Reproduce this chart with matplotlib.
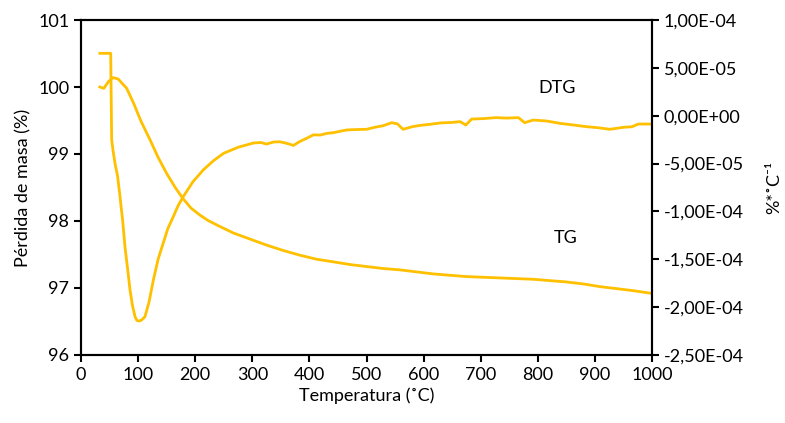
import matplotlib
matplotlib.use("Agg")
import matplotlib.pyplot as plt
from matplotlib.ticker import FuncFormatter, MultipleLocator

plt.rcParams['font.family'] = ['Lato', 'DejaVu Sans']

# TG curve (left axis, %)
tg_x = [33, 40, 48, 56, 65, 80, 92, 105, 121, 135, 150, 165, 179, 193, 208, 222, 238,
        267, 296, 325, 354, 383, 412, 442, 471, 500, 530, 559, 588, 617, 646, 675,
        705, 734, 763, 792, 821, 850, 880, 909, 938, 967, 999]
tg_y = [100.00, 99.98, 100.08, 100.14, 100.12, 99.98, 99.76, 99.49, 99.21, 98.95, 98.71,
        98.50, 98.33, 98.19, 98.09, 98.01, 97.94,
        97.82, 97.73, 97.64, 97.56, 97.49, 97.43, 97.39, 97.35, 97.32, 97.29, 97.27, 97.24,
        97.21, 97.19, 97.17, 97.16, 97.15, 97.14, 97.13, 97.11, 97.09, 97.06, 97.02,
        96.99, 96.96, 96.92]

# DTG curve (right axis, %*C-1)
dtg_x = [33, 40, 47, 52, 53.7, 56, 59.5, 64, 68.3, 73, 77, 82, 85.8, 90, 94.6, 98, 102,
         106, 112, 119, 126.6, 135, 144, 152, 161.6, 170, 179, 196, 214, 232, 249.6, 275,
         302, 315, 325, 337, 348, 358, 366, 372, 383, 395, 407, 419, 430, 442, 465, 480,
         500, 515, 529, 544, 554, 564, 580, 595, 611, 630, 650, 664, 674, 684, 705, 727,
         745, 766, 777, 792, 815, 839, 860, 886, 905, 926, 940, 950, 965, 976, 999]
dtg_y = [6.52, 6.52, 6.52, 6.52, -2.54, -3.6, -4.97, -6.3, -8.46, -11.0, -13.7, -16.2,
         -18.2, -19.8, -21.0, -21.4, -21.45, -21.35, -21.0, -19.5, -17.2, -15.0, -13.3,
         -11.8, -10.55, -9.4, -8.46, -6.9, -5.67, -4.7, -3.93, -3.3,
         -2.85, -2.8, -2.96, -2.75, -2.72, -2.85, -2.99, -3.1, -2.7, -2.36, -2.0, -2.02,
         -1.85, -1.77, -1.49, -1.45, -1.42, -1.2, -1.05, -0.73, -0.85, -1.42, -1.15,
         -1.0, -0.9, -0.75, -0.7, -0.62, -0.97, -0.35, -0.3, -0.2, -0.25, -0.2, -0.73,
         -0.45, -0.55, -0.8, -0.95, -1.15, -1.25, -1.42, -1.3, -1.21, -1.15, -0.87, -0.87]
dtg_y = [v * 1e-5 for v in dtg_y]

color = '#FFC000'
fs = 13

fig = plt.figure(figsize=(7.85, 4.23), dpi=100)
ax = fig.add_axes([0.1032, 0.1608, 0.7274, 0.7919])
ax2 = ax.twinx()

ax.plot(tg_x, tg_y, color=color, lw=2.0, solid_joinstyle='round')
ax2.plot(dtg_x, dtg_y, color=color, lw=2.0, solid_joinstyle='round')

ax.set_xlim(0, 1000)
ax.set_ylim(96, 101)
ax2.set_ylim(-2.5e-4, 1e-4)
ax.xaxis.set_major_locator(MultipleLocator(100))
ax.yaxis.set_major_locator(MultipleLocator(1))
ax2.yaxis.set_major_locator(MultipleLocator(5e-5))
ax2.yaxis.set_major_formatter(FuncFormatter(lambda v, p: f"{v:.2E}".replace('.', ',').replace('-0,00', '0,00')))

for a in (ax, ax2):
    for s in a.spines.values():
        s.set_linewidth(1.5)
    a.tick_params(direction='out', length=5, width=1.5, labelsize=fs)

ax.set_xlabel('Temperatura (˚C)', fontsize=fs, labelpad=3)
ax.set_ylabel('Pérdida de masa (%)', fontsize=fs, labelpad=5)
ax2.set_ylabel('%*˚C⁻¹', fontsize=fs, labelpad=16)

ax.text(833, 99.99, 'DTG', fontsize=fs, ha='center', va='center')
ax.text(849, 97.75, 'TG', fontsize=fs, ha='center', va='center')

fig.savefig('out.png', dpi=100)
